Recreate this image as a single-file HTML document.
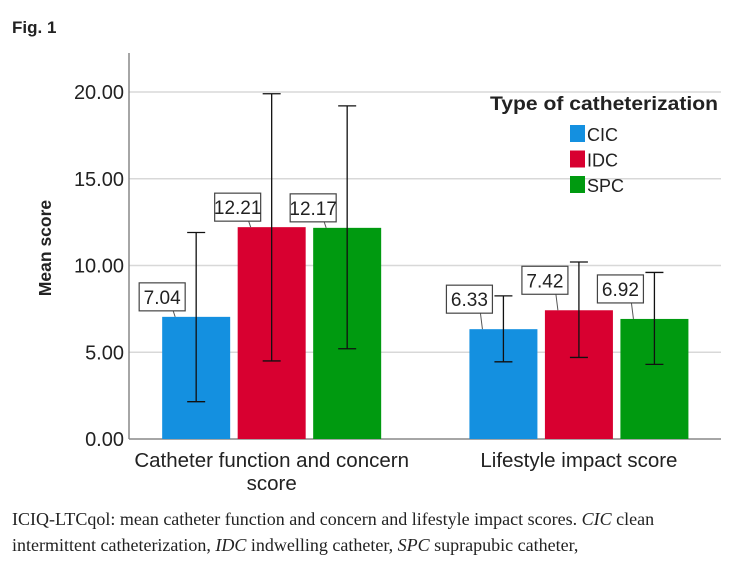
<!DOCTYPE html>
<html><head><meta charset="utf-8"><style>
body{margin:0;background:#fff;width:739px;height:563px;overflow:hidden;font-family:"Liberation Sans",sans-serif}
.cap{position:absolute;left:12px;font-family:"Liberation Serif",serif;font-size:18px;color:#222;white-space:nowrap}
</style></head><body>
<div style="position:absolute;left:12px;top:18px;font-weight:bold;font-size:17px;color:#222">Fig. 1</div>
<svg id="chart" width="739" height="500" style="position:absolute;left:0;top:0" font-family="Liberation Sans, sans-serif"></svg>
<div class="cap" style="top:509px">ICIQ-LTCqol: mean catheter function and concern and lifestyle impact scores. <i>CIC</i> clean</div>
<div class="cap" style="top:535px">intermittent catheterization, <i>IDC</i> indwelling catheter, <i>SPC</i> suprapubic catheter,</div>
<script>
const categories = ["Catheter function and concern|score", "Lifestyle impact score"];
const seriesNames = ["CIC", "IDC", "SPC"];
const meanCIC = [7.04, 6.33];
const meanIDC = [12.21, 7.42];
const meanSPC = [12.17, 6.92];
const lowCIC = [2.15, 4.45];
const highCIC = [11.9, 8.25];
const lowIDC = [4.5, 4.7];
const highIDC = [19.9, 10.2];
const lowSPC = [5.2, 4.3];
const highSPC = [19.2, 9.6];
const yTicks = [0, 5, 10, 15, 20];

const colors = ["#1490e0", "#d80030", "#009a10"];
const means = [meanCIC, meanIDC, meanSPC];
const lows = [lowCIC, lowIDC, lowSPC];
const highs = [highCIC, highIDC, highSPC];
const svg = document.getElementById('chart');
const NS = 'http://www.w3.org/2000/svg';
const X0 = 129, X1 = 721, Y0 = 439, YTOP = 53;
const y = v => Y0 - v * 17.35;
const catX = i => X0 + (X1 - X0) * (0.241 + i * 0.519);
const BW = 68, STEP = 75.5;
function mk(tag, attrs, parent) { const e = document.createElementNS(NS, tag); for (const k in attrs) e.setAttribute(k, attrs[k]); (parent || svg).appendChild(e); return e; }

yTicks.forEach(t => {
  if (t > 0) { const g = mk('line', {x1: X0, x2: X1, y1: y(t), y2: y(t), stroke: '#d8d8d8', 'stroke-width': 1.5});
    
     }
  const tx = mk('text', {x: 124, y: y(t) + 7, 'text-anchor': 'end', 'font-size': 20, fill: '#222'});
  tx.textContent = t.toFixed(2);
  
  
});
const ax = mk('line', {x1: X0, x2: X0, y1: YTOP, y2: Y0, stroke: '#888', 'stroke-width': 1.5});


const bx = mk('line', {x1: X0, x2: X1, y1: Y0, y2: Y0, stroke: '#888', 'stroke-width': 1.5});


const yl = mk('text', {x: 0, y: 0, transform: 'translate(51,248) rotate(-90)', 'text-anchor': 'middle', 'font-size': 17.5, 'font-weight': 'bold', fill: '#222'});
yl.textContent = 'Mean score';



categories.forEach((c, i) => {
  const parts = c.split('|');
  parts.forEach((p, j) => {
    const t = mk('text', {x: catX(i), y: 467 + j * 23, 'text-anchor': 'middle', 'font-size': 20.5, fill: '#222'});
    t.textContent = p;
    
    
  });
  for (let s = 0; s < 3; s++) {
    const cx = catX(i) + (s - 1) * STEP;
    const v = means[s][i];
    const r = mk('rect', {x: cx - BW / 2, y: y(v), width: BW, height: Y0 - y(v), fill: colors[s]});
    
    
    const lo = y(lows[s][i]), hi = y(highs[s][i]);
    const eb = mk('path', {d: `M${cx},${lo}V${hi}M${cx - 9},${lo}H${cx + 9}M${cx - 9},${hi}H${cx + 9}`, stroke: '#111', 'stroke-width': 1.3, fill: 'none'});
    
    
    const bw = 46, bh = 28, br = cx - 11, bb = y(v) - (i === 0 ? 6 : 16);
    const lead = mk('line', {x1: br - 12, x2: br - 10, y1: bb, y2: y(v), stroke: '#555'});
    
    
    const box = mk('rect', {x: br - bw, y: bb - bh, width: bw, height: bh, fill: '#fff', stroke: '#444', 'stroke-width': 1.2});
    
    
    const vt = mk('text', {x: br - bw / 2, y: bb - 7, 'text-anchor': 'middle', 'font-size': 19, fill: '#222'});
    vt.textContent = v.toFixed(2);
    
    
  }
});

const lt = mk('text', {x: 490, y: 110, 'font-size': 19, 'font-weight': 'bold', fill: '#222', textLength: 228, lengthAdjust: 'spacingAndGlyphs'});
lt.textContent = 'Type of catheterization';


seriesNames.forEach((n, s) => {
  const sw = mk('rect', {x: 570, y: 125 + s * 25.5, width: 15, height: 17, fill: colors[s]});
  
  
  const t = mk('text', {x: 587, y: 141 + s * 25.5, 'font-size': 18, fill: '#222'});
  t.textContent = n;
  
  
});
</script>
</body></html>
